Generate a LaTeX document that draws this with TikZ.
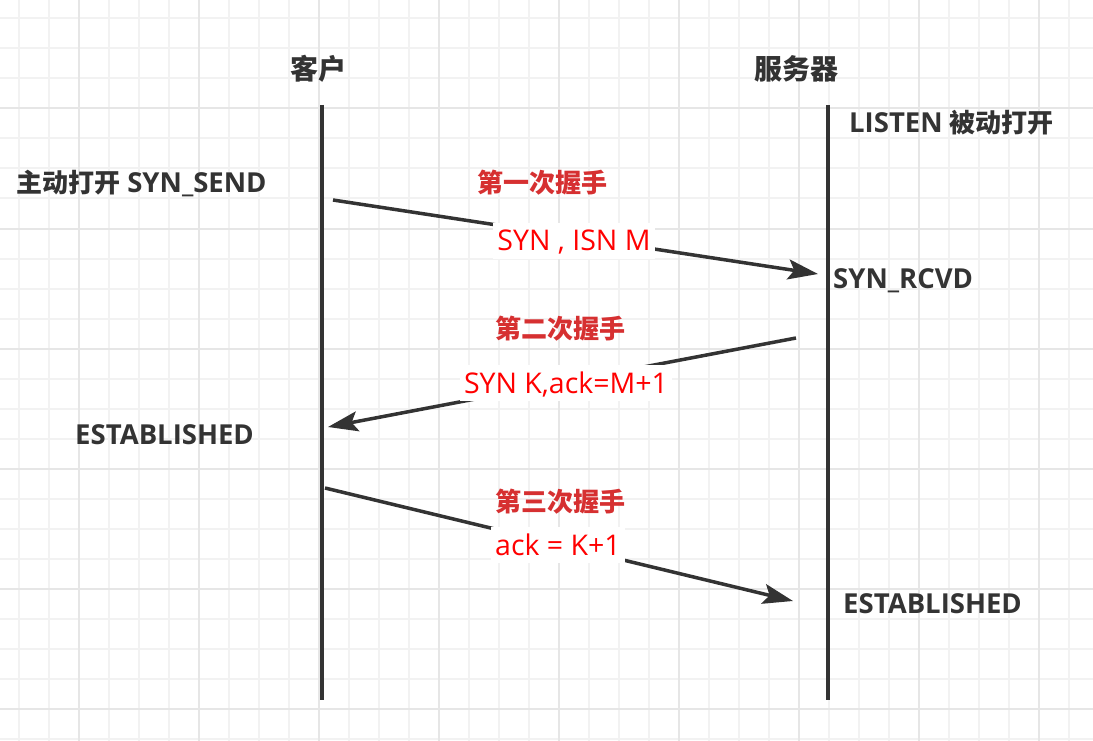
\documentclass[tikz,border=0pt]{standalone}
\usepackage{fontspec}
\setmainfont{Open Sans}
\newfontfamily\cjk{Noto Sans CJK SC}
\usetikzlibrary{arrows.meta}
\definecolor{ink}{HTML}{333333}
\definecolor{titlered}{HTML}{D63031}
\definecolor{lblred}{HTML}{FF0000}
\definecolor{gridminor}{HTML}{F2F2F2}
\definecolor{gridmajor}{HTML}{E6E6E6}
\begin{document}
\begin{tikzpicture}[x=1pt,y=-1pt,
  minorline/.style={draw=gridminor,line width=2pt},
  majorline/.style={draw=gridmajor,line width=2pt},
  lifeline/.style={draw=ink,line width=4pt},
  msg/.style={draw=ink,line width=3.5pt,-{Stealth[length=30pt,width=20pt,inset=6pt]}},
  state/.style={text=ink,font=\fontsize{27.5}{32}\selectfont\bfseries,inner sep=0pt,anchor=base west},
  party/.style={text=ink,font=\fontsize{28}{32}\selectfont\cjk\bfseries,inner sep=0pt,anchor=base},
  hs/.style={text=titlered,font=\fontsize{26}{30}\selectfont\cjk\bfseries,inner sep=0pt,anchor=base},
  lbl/.style={text=lblred,fill=white,font=\fontsize{28.5}{32}\selectfont,inner xsep=4pt,inner ysep=2pt,text height=26pt,text depth=6pt,anchor=base},
  cjkpart/.style={font=\fontsize{26}{30}\selectfont\cjk\bfseries},
]
\useasboundingbox (0,0) rectangle (1093,741);
\fill[white] (0,0) rectangle (1093,741);
% grid
\foreach \i in {0,...,36} { \draw[minorline] ({18.5+30*\i},0) -- ({18.5+30*\i},741); }
\foreach \i in {0,...,24} { \draw[minorline] (0,{18.5+30*\i}) -- (1093,{18.5+30*\i}); }
\foreach \i in {0,...,8} { \draw[majorline] ({78.5+120*\i},0) -- ({78.5+120*\i},741); }
\foreach \i in {0,...,5} { \draw[majorline] (0,{108.5+120*\i}) -- (1093,{108.5+120*\i}); }

% lifelines
\coordinate (ctop) at (322,105);
\coordinate (cbot) at (322,700);
\coordinate (stop) at (828,105);
\coordinate (sbot) at (828,700);
\draw[lifeline] (ctop) -- (cbot);
\draw[lifeline] (stop) -- (sbot);

% messages
\coordinate (m1s) at (333,200);
\coordinate (m1e) at (818,274);
\coordinate (m2s) at (796,338);
\coordinate (m2e) at (328,427);
\coordinate (m3s) at (325,488);
\coordinate (m3e) at (793,601);
\draw[msg] (m1s) -- (m1e);
\draw[msg] (m2s) -- (m2e);
\draw[msg] (m3s) -- (m3e);

\node[lbl] (l1) at (574,251) {SYN , ISN M};
\node[lbl] (l2) at (566,393) {SYN K,ack=M+1};
\node[lbl] (l3) at (558,555) {ack = K+1};

% parties
\node[party] (client) at (318,80) {客户};
\node[party] (server) at (796,80) {服务器};

% states
\node[state] (listen) at (849,133) {LISTEN {\fontsize{26}{30}\selectfont\cjk 被动打开}};
\node[state] (synsend) at (16,193) {{\fontsize{26}{30}\selectfont\cjk 主动打开} SYN\_SEND};
\node[state] (synrcvd) at (833,288) {SYN\_RCVD};
\node[state] (estc) at (75,444) {ESTABLISHED};
\node[state] (ests) at (843,613) {ESTABLISHED};

% handshake titles
\node[hs] (h1) at (542,193) {第一次握手};
\node[hs] (h2) at (560,338) {第二次握手};
\node[hs] (h3) at (560,511) {第三次握手};
\end{tikzpicture}
\end{document}
